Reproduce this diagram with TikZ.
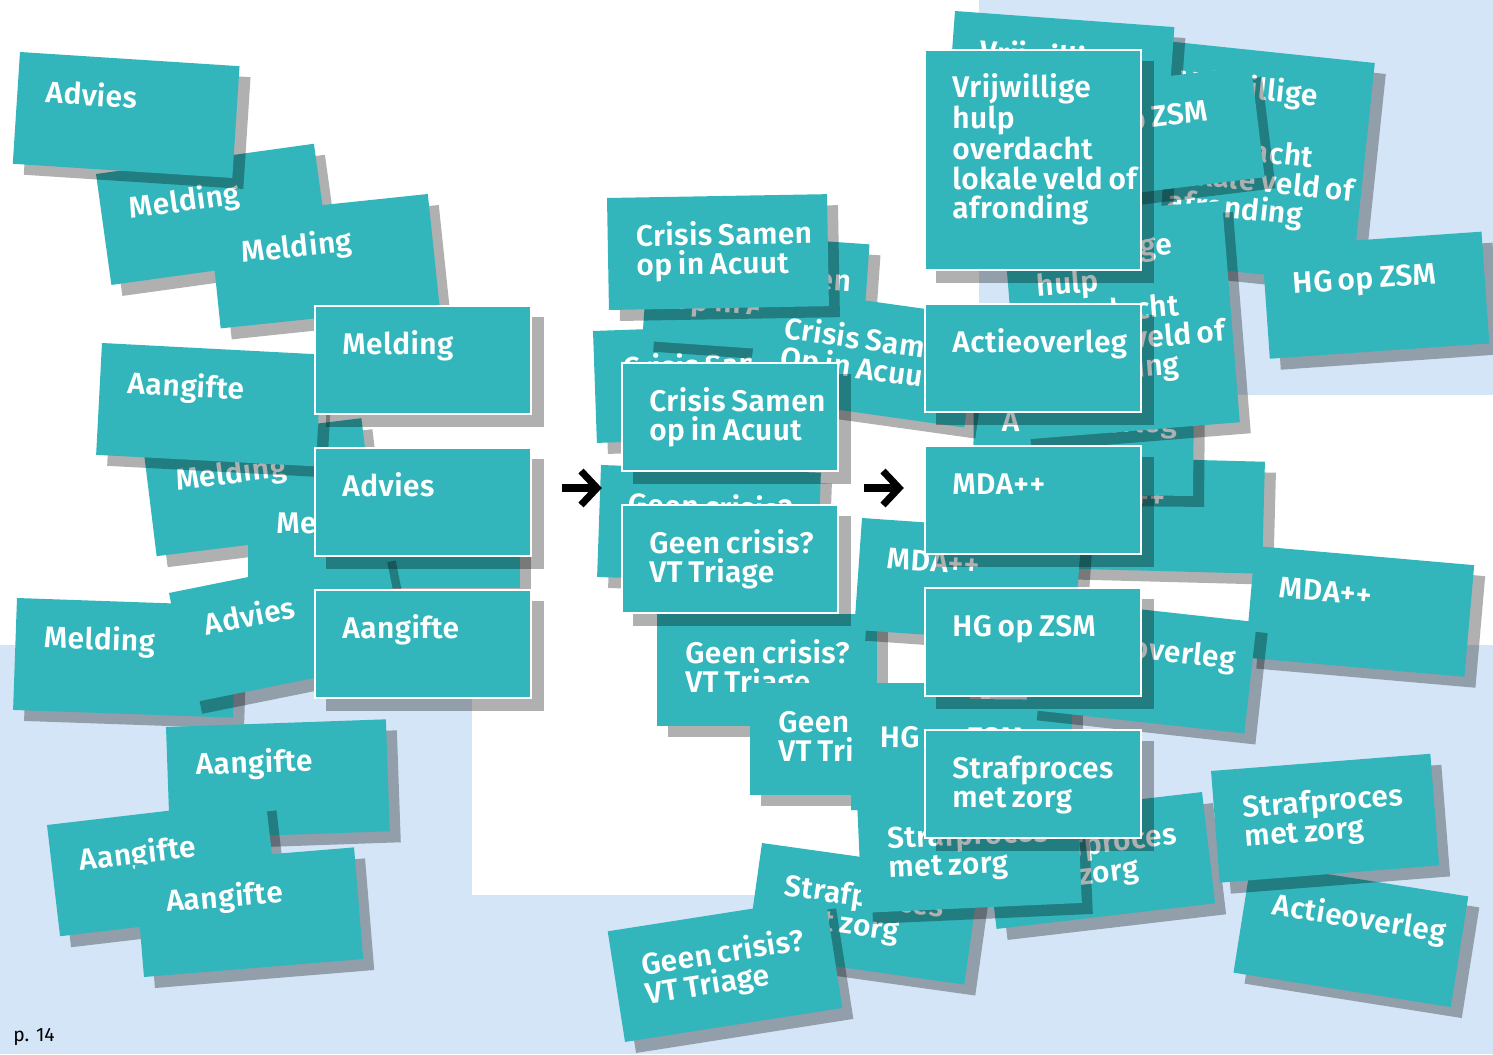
\documentclass[tikz,border=0pt]{standalone}
\usepackage{fontspec}
\setmainfont{Fira Sans}
\IfFontExistsTF{Fira Sans SemiBold}
  {\newfontfamily\firasemi{Fira Sans SemiBold}[LetterSpace=1.5,WordSpace=0.75]\newcommand{\cardfam}{\firasemi}}
  {\newfontfamily\firabold{Fira Sans}[WordSpace=0.75]\newcommand{\cardfam}{\firabold\bfseries}}
\definecolor{cardteal}{RGB}{50,182,188}
\definecolor{bgblue}{RGB}{212,229,247}
\newcommand{\cardfont}{\fontsize{17}{16.6}\selectfont\cardfam}
\newcommand{\lne}[1]{\hbox{#1}}
\newcommand{\card}[7]{%
  \begin{scope}[shift={(#2+11,#3+11)},rotate={-(#4)}]
    \fill[shd] (0,0) rectangle (#5,#6);
  \end{scope}
  \begin{scope}[shift={(#2,#3)},rotate={-(#4)},transform shape]
    \fill[cardc] (0,0) rectangle (#5,#6);
    \node[txt] (#1) at (28,49) {\vtop{#7}};
  \end{scope}}
\newcommand{\front}[5]{%
  \fill[shd] (#2+12,#3+12) rectangle ++(218,#4);
  \fill[cardc] (#2,#3) rectangle ++(218,#4);
  \draw[frameline] (#2+1.2,#3+1.2) rectangle ++(215.6,#4-2.4);
  \node[txt] (#1) at (#2+28,#3+49) {\vtop{#5}};}
\newcommand{\CSA}{\lne{Crisis Samen}\lne{op in Acuut}}
\newcommand{\GCV}{\lne{Geen crisis?}\lne{VT Triage}}
\newcommand{\SMZ}{\lne{Strafproces}\lne{met zorg}}
\newcommand{\VHO}{\lne{Vrijwillige}\lne{hulp}\lne{overdacht}\lne{lokale veld of}\lne{afronding}}
\begin{document}
\begin{tikzpicture}[x=0.02cm,y=-0.02cm,
  shd/.style={fill=black,fill opacity=0.31},
  cardc/.style={fill=cardteal},
  frameline/.style={draw=white,line width=1.36pt},
  txt/.style={anchor=base west,inner sep=0pt,text=white,font=\cardfont},
  blk/.style={draw=black,line width=4pt,line join=miter}]
\useasboundingbox (0,0) rectangle (1493,1054);
% background
\fill[white] (0,0) rectangle (1493,1054);
\fill[bgblue] (979,0) rectangle (1493,395);
\fill[bgblue] (0,645) rectangle (1493,1054);
\fill[white] (472,645) rectangle (990,895);
% left cluster
\card{l2}{96}{174}{-7.9}{220}{112}{\lne{Melding}}
\card{l1}{20}{52}{3.7}{220}{112}{\lne{Advies}}
\card{l3}{209}{217}{-6}{220}{112}{\lne{Melding}}
\card{l5}{143}{445}{-7}{220}{112}{\lne{Melding}}
\card{l4}{102}{343}{3}{220}{112}{\lne{Aangifte}}
\card{l6}{248}{484}{0}{272}{104}{\lne{Melding}}
\card{l8}{17}{598}{2}{220}{112}{\lne{Melding}}
\card{l7}{169}{593}{-11.4}{220}{112}{\lne{Advies}}
\card{l9}{166}{727}{-2}{220}{112}{\lne{Aangifte}}
\card{l10}{47}{825}{-6.7}{220}{112}{\lne{Aangifte}}
\card{l11}{134.8}{865.4}{-4.7}{220}{112}{\lne{Aangifte}}
% middle and right clusters (back)
\card{r6}{1045}{456}{1.5}{220}{112}{\lne{MDA++}}
\card{r7}{974}{382}{0.5}{220}{112}{\lne{Actieoverleg}}
\card{m3}{593}{331}{-2}{220}{112}{\CSA}
\card{m2}{650}{229}{4}{220}{112}{\CSA}
\card{m4}{762}{286}{8}{220}{112}{\lne{Crisis Samen}\lne{Op in Acuut}}
\card{m1}{607}{198}{-1}{220}{112}{\CSA}
\card{m5}{601}{465}{2}{220}{112}{\GCV}
\card{m6}{657}{614}{0}{220}{112}{\GCV}
\card{m13}{862}{518}{4}{220}{112}{\lne{MDA++}}
\card{m7}{750}{683}{0}{220}{112}{\GCV}
\card{m8}{852}{698}{0.5}{220}{112}{\lne{HG op ZSM}}
\card{r2}{1156}{40}{6}{220}{222}{\VHO}
\card{r1}{955}{11}{4.2}{220}{222}{\VHO}
\card{rh1}{1032.6}{92.8}{-7}{220}{112}{\lne{HG op ZSM}}
\card{r3}{1002.7}{218.6}{-4.6}{220}{222}{\VHO}
\card{rh2}{1262}{247}{-4}{220}{112}{\lne{HG op ZSM}}
\card{r5}{1255}{546}{5}{220}{112}{\lne{MDA++}}
\card{r4}{1038}{598}{6.3}{220}{112}{\lne{Actieoverleg}}
\card{m11}{762}{843}{8}{220}{112}{\SMZ}
\card{m10}{983.5}{817.7}{-6.7}{220}{112}{\SMZ}
\card{m9}{857}{801}{-2.6}{220}{112}{\SMZ}
\card{m12}{607.7}{931.3}{-8.9}{220}{112}{\GCV}
\card{r11}{1251}{862}{9}{220}{112}{\lne{Actieoverleg}}
\card{r10}{1211}{771}{-4.5}{220}{112}{\SMZ}
% front boxes
\front{f1}{314}{305}{110}{\lne{Melding}}
\front{f2}{314}{447}{110}{\lne{Advies}}
\front{f3}{314}{589}{110}{\lne{Aangifte}}
\front{f4}{621}{362}{110}{\CSA}
\front{f5}{621}{504}{110}{\GCV}
\front{f6}{924}{49}{222}{\VHO}
\front{f7}{924}{303}{110}{\lne{Actieoverleg}}
\front{f8}{924}{445}{110}{\lne{MDA++}}
\front{f9}{924}{587}{110}{\lne{HG op ZSM}}
\front{f10}{924}{729}{110}{\SMZ}
% arrows
\coordinate (a1s) at (562,488);
\coordinate (a1e) at (597,488);
\coordinate (a2s) at (864,488);
\coordinate (a2e) at (899,488);
\draw[blk] (a1s) -- ([xshift=-0.04cm]a1e);
\draw[blk] (a1e) ++(-16,-17) -- (a1e) -- ++(-16,17);
\draw[blk] (a2s) -- ([xshift=-0.04cm]a2e);
\draw[blk] (a2e) ++(-16,-17) -- (a2e) -- ++(-16,17);
% page number
\node[anchor=base west,inner sep=0pt,font=\fontsize{11}{13}\selectfont] (pg) at (13,1041) {p. 14};
\end{tikzpicture}
\end{document}
